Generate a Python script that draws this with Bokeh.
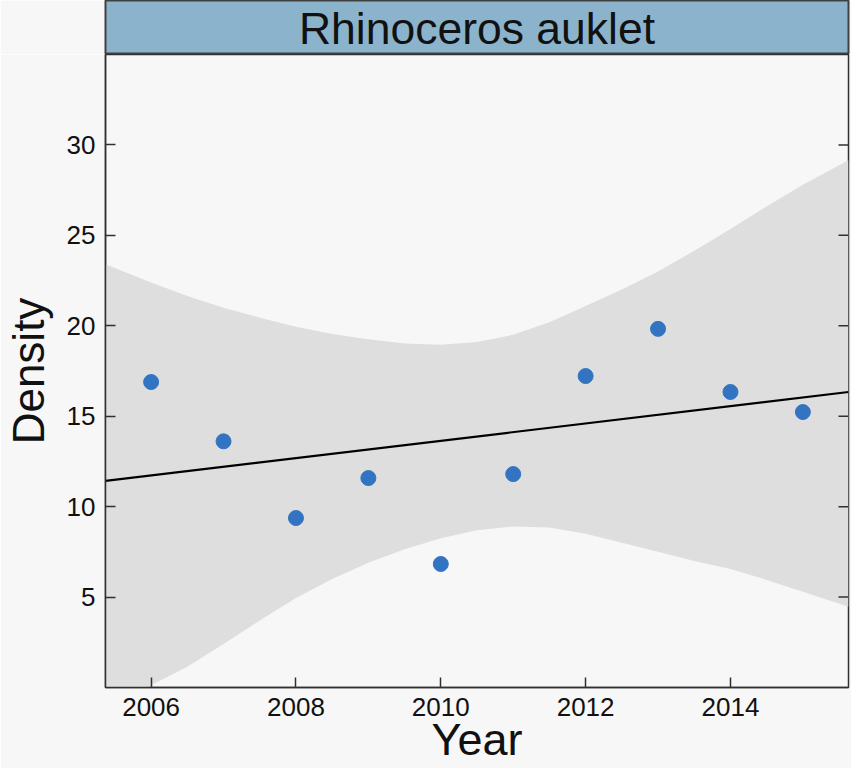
import math
from bokeh.plotting import figure
from bokeh.models import Range1d, FixedTicker
from bokeh.layouts import column
from bokeh.embed import file_html
from bokeh.resources import INLINE
from bokeh.core.properties import value

# ---- data ----
panel_title = "Rhinoceros auklet"
years = [2006, 2007, 2008, 2009, 2010, 2011, 2012, 2013, 2014, 2015]
density = [16.89, 13.61, 9.37, 11.58, 6.83, 11.80, 17.22, 19.83, 16.34, 15.23]

fit_years = [2005.37, 2015.63]
fit_values = [11.42, 16.34]

band_years = [2005.37, 2005.5, 2006, 2006.5, 2007, 2007.5, 2008, 2008.5, 2009,
              2009.5, 2010, 2010.5, 2011, 2011.5, 2012, 2012.5, 2013, 2013.5,
              2014, 2014.5, 2015, 2015.63]
band_upper = [23.4, 23.2, 22.4, 21.65, 21.0, 20.45, 19.95, 19.55, 19.25,
              19.02, 18.95, 19.1, 19.5, 20.2, 21.1, 22.0, 23.0, 24.15,
              25.35, 26.6, 27.8, 29.15]
band_lower = [-1.2, -0.9, 0.12, 1.15, 2.4, 3.7, 4.95, 6.0, 6.9,
              7.65, 8.25, 8.7, 8.9, 8.85, 8.5, 8.0, 7.5, 7.0,
              6.55, 5.95, 5.3, 4.47]

x_ticks = [2006, 2008, 2010, 2012, 2014]
y_ticks = [5, 10, 15, 20, 25, 30]
x_label = "Year"
y_label = "Density"

X_START, X_END = 2005.37, 2015.63
Y_START, Y_END = 0, 35

FONT = "Liberation Sans"
BG = "#f7f7f7"
AXC = "#303030"
TXT = "#111111"

W = 851
LEFT = 105
RIGHT = 3

# ---- strip ----
strip = figure(width=W, height=54, x_range=Range1d(0, 1), y_range=Range1d(0, 1),
               min_border_left=LEFT, min_border_right=RIGHT,
               min_border_top=0, min_border_bottom=0,
               toolbar_location=None, output_backend="svg",
               background_fill_color="#8bb4cc", border_fill_color=BG,
               outline_line_color="#404040", outline_line_width=2)
strip.axis.visible = False
strip.grid.visible = False
strip.text(x=[0.5], y=[0.48], text=[panel_title], text_align="center",
           text_baseline="middle", text_font=value(FONT),
           text_font_size="44.5px", text_color=TXT)

# ---- main ----
p = figure(width=W, height=714,
           x_range=Range1d(X_START, X_END), y_range=Range1d(Y_START, Y_END),
           min_border_left=LEFT, min_border_right=RIGHT,
           min_border_top=0, min_border_bottom=81,
           toolbar_location=None, output_backend="svg",
           background_fill_color=BG, border_fill_color=BG,
           outline_line_color=AXC, outline_line_width=1.5)
p.grid.visible = False

p.varea(x=band_years, y1=band_lower, y2=band_upper, fill_color="#dedede")
p.line(fit_years, fit_values, line_color="black", line_width=2.2)
p.scatter(years, density, size=15, fill_color="#3274c2", line_color="#3274c2")

# inward ticks on the right edge (no labels)
p.ray(x=[X_END] * len(y_ticks), y=y_ticks, length=10, length_units="screen",
      angle=math.pi, line_color=AXC, line_width=1.5)

p.xaxis.ticker = FixedTicker(ticks=x_ticks)
p.yaxis.ticker = FixedTicker(ticks=y_ticks)

for ax in list(p.xaxis) + list(p.yaxis):
    ax.major_tick_in = 10
    ax.major_tick_out = 0
    ax.minor_tick_in = 0
    ax.minor_tick_out = 0
    ax.axis_line_color = AXC
    ax.axis_line_width = 1.5
    ax.major_tick_line_color = AXC
    ax.major_tick_line_width = 1.5
    ax.major_label_text_font = FONT
    ax.major_label_text_font_size = "26px"
    ax.major_label_text_color = TXT
    ax.major_label_standoff = 10
    ax.axis_label_text_font = FONT
    ax.axis_label_text_font_style = "normal"
    ax.axis_label_text_color = TXT

p.yaxis.axis_label = y_label
p.yaxis.axis_label_text_font_size = "44px"
p.yaxis.axis_label_standoff = 11

p.xaxis.axis_label = x_label
p.xaxis.axis_label_text_font_size = "45px"
p.xaxis.axis_label_standoff = -5
p.xaxis.axis_label_text_line_height = 0.2

layout = column(strip, p, spacing=0)
html = file_html(layout, INLINE)
html = html.replace("<body>", '<body style="background-color:#f7f7f7;">', 1)
open("out.html", "w").write(html)
